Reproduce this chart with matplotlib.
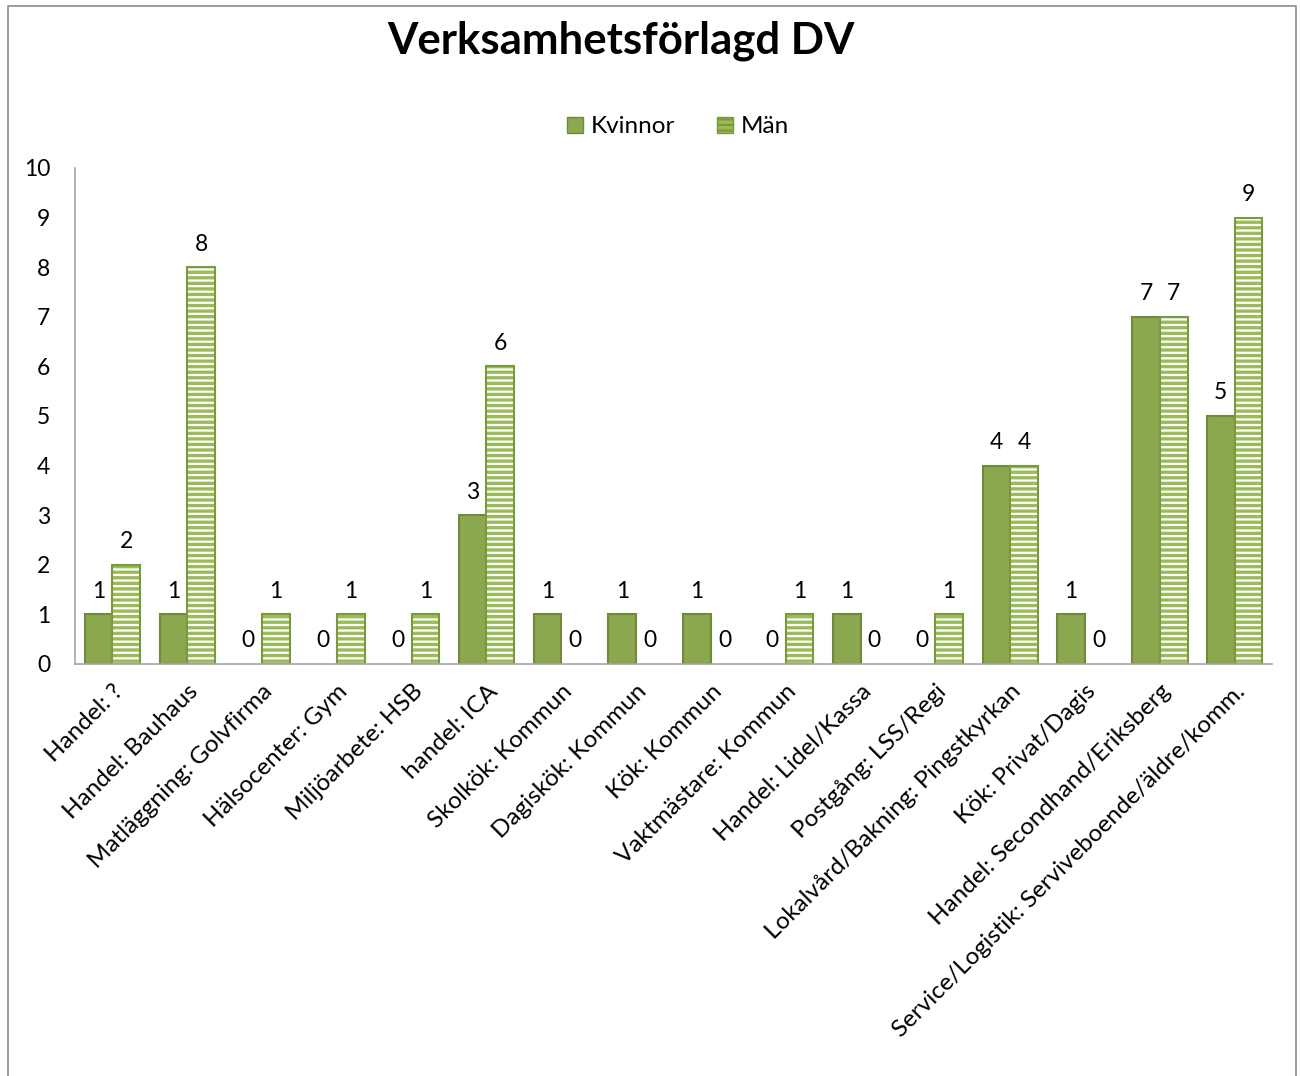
import matplotlib
matplotlib.use("Agg")
import matplotlib.pyplot as plt
import numpy as np
from matplotlib.patches import Rectangle, Patch

categories = ["Handel: ?", "Handel: Bauhaus", "Matläggning: Golvfirma", "Hälsocenter: Gym",
              "Miljöarbete: HSB", "handel: ICA", "Skolkök: Kommun", "Dagiskök: Kommun",
              "Kök: Kommun", "Vaktmästare: Kommun", "Handel: Lidel/Kassa", "Postgång: LSS/Regi",
              "Lokalvård/Bakning: Pingstkyrkan", "Kök: Privat/Dagis",
              "Handel: Secondhand/Eriksberg", "Service/Logistik: Serviveboende/äldre/komm."]
kvinnor = [1, 1, 0, 0, 0, 3, 1, 1, 1, 0, 1, 0, 4, 1, 7, 5]
man = [2, 8, 1, 1, 1, 6, 0, 0, 0, 1, 0, 1, 4, 0, 7, 9]
yticks = list(range(0, 11))

plt.rcParams['font.family'] = ['Lato', 'DejaVu Sans']
plt.rcParams['hatch.linewidth'] = 1.6
plt.rcParams['hatch.color'] = 'white'

FS = 16.5
FSX = 17.5

fig = plt.figure(figsize=(13, 10.76), dpi=100)
ax = fig.add_axes([0.0577, 0.3829, 0.9208, 0.4610])

x = np.arange(len(categories))
w = 0.37
c_k = '#8BA84F'
e_k = '#71893D'
c_m = '#9BBB59'
e_m = '#7A9A3E'

b1 = ax.bar(x - w/2, kvinnor, w, color=c_k, edgecolor=[e_k if v else 'none' for v in kvinnor],
            linewidth=1.5, label='Kvinnor')
b2 = ax.bar(x + w/2, man, w, color=c_m, edgecolor=[e_m if v else 'none' for v in man],
            linewidth=1.5, hatch='---', label='Män')
for b in b2:
    b._hatch_color = matplotlib.colors.to_rgba('white')

for bars, vals in ((b1, kvinnor), (b2, man)):
    for b, v in zip(bars, vals):
        ax.annotate(str(v), (b.get_x() + b.get_width()/2, v), xytext=(0, 9),
                    textcoords='offset points', ha='center', va='bottom', fontsize=FS)

ax.set_xlim(-0.5, len(categories) - 0.5)
ax.set_ylim(0, 10)
ax.set_yticks(yticks)
ax.set_yticklabels([str(t) for t in yticks], fontsize=FS)
ax.set_xticks(x)
ax.set_xticklabels(categories, rotation=45, ha='right', rotation_mode='anchor', fontsize=FSX)
ax.tick_params(axis='x', length=0, pad=12)
ax.tick_params(axis='y', length=0, pad=18)
for s in ('top', 'right'):
    ax.spines[s].set_visible(False)
for s in ('left', 'bottom'):
    ax.spines[s].set_color('#A6A6A6')
    ax.spines[s].set_linewidth(1.2)

fig.text(0.478, 0.962, 'Verksamhetsförlagd DV', ha='center', va='center',
         fontsize=31.5, fontweight='bold')

handles = [Patch(facecolor=c_k, edgecolor=e_k, label='Kvinnor'),
           Patch(facecolor=c_m, edgecolor=e_m, hatch='---', label='Män')]
fig.legend(handles=handles, loc='center', bbox_to_anchor=(0.5215, 0.882), ncol=2,
           frameon=False, fontsize=17.5, handlelength=0.65, handleheight=0.65,
           handletextpad=0.3, columnspacing=1.75)

fig.add_artist(Rectangle((8/1300, -0.01), 1288/1300, 1.01 - 6/1076,
                         transform=fig.transFigure, fill=False, edgecolor='#8C8C8C',
                         linewidth=1.2, clip_on=False))

fig.savefig('out.png', dpi=100)
